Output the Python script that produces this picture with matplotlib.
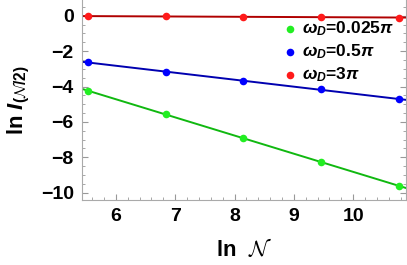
import numpy as np
import matplotlib
matplotlib.use("Agg")
import matplotlib.pyplot as plt
from matplotlib.ticker import MultipleLocator

plt.rcParams['font.family'] = ['Liberation Sans', 'DejaVu Sans']
plt.rcParams['font.weight'] = 'bold'
plt.rcParams['mathtext.fontset'] = 'custom'
plt.rcParams['mathtext.rm'] = 'Liberation Sans:bold'
plt.rcParams['mathtext.it'] = 'Liberation Sans:bold:italic'
plt.rcParams['mathtext.bf'] = 'Liberation Sans:bold'
plt.rcParams['mathtext.cal'] = 'cmsy10'

# ======== data ========
ln_N = [5.53, 6.84, 8.15, 9.46, 10.77]
y_green = [-4.24, -5.57, -6.93, -8.25, -9.62]
y_blue = [-2.62, -3.18, -3.69, -4.16, -4.71]
y_red = [-0.02, -0.04, -0.06, -0.08, -0.10]
labels = [r'$\omega_D$=0.025$\pi$', r'$\omega_D$=0.5$\pi$', r'$\omega_D$=3$\pi$']

series = [
    (y_green, "#22ee22", "#10b810"),
    (y_blue, "#0000ff", "#0000b0"),
    (y_red, "#ff1a1a", "#b00000"),
]

fig = plt.figure(figsize=(4.07, 2.65), dpi=100)
ax = fig.add_axes([82 / 407, 1 - 200 / 265, (406 - 82) / 407, 200 / 265])

xlo, xhi = 5.43, 10.89
xs = np.array([xlo, xhi])
handles = []
for (ys, pc, lc), lab in zip(series, labels):
    k, b = np.polyfit(ln_N, ys, 1)
    ax.plot(xs, k * xs + b, color=lc, lw=1.4, zorder=2)
    h = ax.scatter(ln_N, ys, s=30, color=pc, zorder=3, label=lab, linewidths=0)
    handles.append(h)

ax.set_xlim(xlo, xhi)
ax.set_ylim(-10.41, 0.89)
ax.xaxis.set_major_locator(MultipleLocator(1))
ax.xaxis.set_minor_locator(MultipleLocator(0.2))
ax.yaxis.set_major_locator(MultipleLocator(2))
ax.yaxis.set_minor_locator(MultipleLocator(0.5))
ax.tick_params(which='both', direction='in', color='#999999', top=False, right=True)
ax.tick_params(which='major', length=4, labelsize=14, pad=6)
ax.tick_params(which='minor', length=2)
for lab in ax.get_xticklabels() + ax.get_yticklabels():
    lab.set_fontweight('bold')
for s in ['left', 'bottom', 'right']:
    ax.spines[s].set_color('#aaaaaa')
ax.spines['top'].set_visible(False)

label_sets = [
    (r'ln  $\mathcal{N}$', r'ln $I_{(\mathcal{N}/2)}$'),
    (r'ln  $N$', r'ln $I_{(N/2)}$'),
]
xl = ax.set_xlabel('', fontsize=16, fontweight='bold', labelpad=9)
yl = ax.set_ylabel('', fontsize=16, fontweight='bold', labelpad=6)
for xt, yt in label_sets:
    xl.set_text(xt)
    yl.set_text(yt)
    try:
        fig.canvas.draw()
        break
    except Exception:
        continue

leg = ax.legend(handles=handles, loc='upper right', frameon=False, fontsize=12.5,
                handletextpad=-0.3, borderaxespad=0.1, labelspacing=0.25,
                bbox_to_anchor=(0.99, 0.945))
for t in leg.get_texts():
    t.set_fontweight('bold')

fig.savefig("out.png", dpi=100)
